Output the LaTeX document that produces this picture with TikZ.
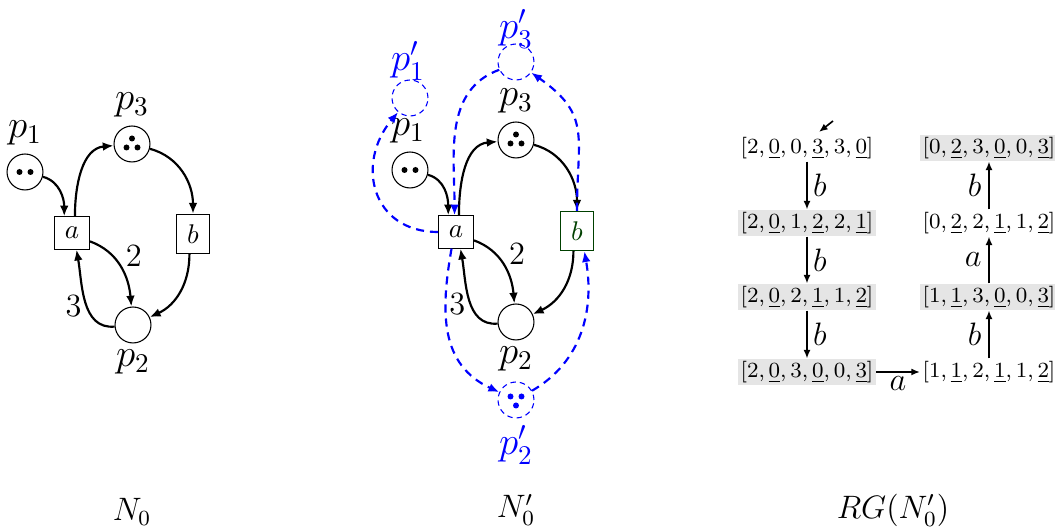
\documentclass[tikz,border=0pt]{standalone}
\usetikzlibrary{arrows.meta}
\begin{document}
\begin{tikzpicture}[x=0.37pt,y=0.37pt,
  place/.style={circle,draw,thin,minimum size=13.3pt,inner sep=0pt},
  bplace/.style={place,draw=blue,dash pattern=on 2pt off 1.5pt},
  trans/.style={rectangle,draw,thin,inner sep=3.8pt},
  gtrans/.style={trans,draw=green!25!black,text=green!25!black},
  lbl/.style={inner sep=0pt,font=\Large},
  blbl/.style={inner sep=0pt,font=\Large,text=blue},
  wlbl/.style={inner sep=0pt,font=\large},
  arc/.style={thick,-{Latex[length=4pt,width=3.2pt]}},
  barc/.style={arc,blue,dash pattern=on 3pt off 2.2pt},
  mk/.style={font=\footnotesize,inner sep=0.8pt},
  mkg/.style={mk,fill=gray!20},
  rg/.style={semithick,-{Latex[length=3.2pt,width=2.6pt]}},
  tok/.style={fill},
  rglbl/.style={font=\large},
]
\useasboundingbox (0,0) rectangle (1055,-530);

% ---------- N0 ----------
\node[place] (p1) at (25,-172) {};
\node[place] (p3) at (132,-144) {};
\node[place] (p2) at (133,-325) {};
\node[trans] (a) at (72,-233) {$a$};
\node[trans] (b) at (193,-234) {$b$};
\node[lbl] (lp1) at (25,-133) {$p_1$};
\node[lbl] (lp3) at (132,-105) {$p_3$};
\node[lbl] (lp2) at (133,-362) {$p_2$};
\fill[tok] (p1.center) ++(-5.5,0) circle[radius=3];
\fill[tok] (p1.center) ++(5.5,0) circle[radius=3];
\fill[tok] (p3.center) ++(0,5.5) circle[radius=3];
\fill[tok] (p3.center) ++(-5.5,-3.5) circle[radius=3];
\fill[tok] (p3.center) ++(5.5,-3.5) circle[radius=3];
\draw[arc] (p1) to[out=-15,in=90] (a.115);
\draw[arc] (a.80) to[out=90,in=185] (p3);
\draw[arc] (p3) to[out=-15,in=90] (b.north);
\draw[arc] (b.-100) to[out=-90,in=25] (p2);
\draw[arc] (a.-25) to[out=-20,in=95] node[wlbl,pos=0.55,above right=1pt] (w2) {$2$} (p2);
\draw[arc] (p2) to[out=185,in=-80] node[wlbl,pos=0.45,left=1.5pt] (w3) {$3$} (a.-75);
\node[rglbl] (n0) at (132,-512) {$N_0$};

% ---------- N0' ----------
\node[place] (q1) at (410,-170) {};
\node[place] (q3) at (516,-140) {};
\node[place] (q2) at (516,-322) {};
\node[trans] (qa) at (456,-232) {$a$};
\node[gtrans] (qb) at (577,-231) {$b$};
\node[bplace] (r1) at (410,-98) {};
\node[bplace] (r3) at (516,-62) {};
\node[bplace] (r2) at (516,-400) {};
\node[lbl] (lq1) at (408,-131) {$p_1$};
\node[lbl] (lq3) at (516,-101) {$p_3$};
\node[lbl] (lq2) at (516,-359) {$p_2$};
\node[blbl] (lr1) at (408,-61) {$p'_1$};
\node[blbl] (lr3) at (516,-29) {$p'_3$};
\node[blbl] (lr2) at (516,-445) {$p'_2$};
\fill[tok] (q1.center) ++(-5.5,0) circle[radius=3];
\fill[tok] (q1.center) ++(5.5,0) circle[radius=3];
\fill[tok] (q3.center) ++(0,5.5) circle[radius=3];
\fill[tok] (q3.center) ++(-5.5,-3.5) circle[radius=3];
\fill[tok] (q3.center) ++(5.5,-3.5) circle[radius=3];
\fill[tok,blue] (r2.center) ++(-5.5,3.5) circle[radius=3];
\fill[tok,blue] (r2.center) ++(5.5,3.5) circle[radius=3];
\fill[tok,blue] (r2.center) ++(0,-5.5) circle[radius=3];
\draw[arc] (q1) to[out=-15,in=90] (qa.115);
\draw[arc] (qa.80) to[out=90,in=185] (q3);
\draw[arc] (q3) to[out=-15,in=90] (qb.north);
\draw[arc] (qb.-100) to[out=-90,in=25] (q2);
\draw[arc] (qa.-25) to[out=-20,in=95] node[wlbl,pos=0.55,above right=1pt] (qw2) {$2$} (q2);
\draw[arc] (q2) to[out=185,in=-80] node[wlbl,pos=0.45,left=1.5pt] (qw3) {$3$} (qa.-75);
\draw[barc] (qa.west) to[out=180,in=-130,looseness=1.35] (r1);
\draw[barc] (r3.205) to[out=200,in=90] (qa.95);
\draw[barc] (qb.north) to[out=90,in=-35,looseness=1.3] (r3);
\draw[barc] (qa.-105) to[out=-100,in=155,looseness=1.1] (r2);
\draw[barc] (r2) to[out=30,in=-80] (qb.-70);
\node[rglbl] (n0p) at (516,-510) {$N'_0$};

% ---------- RG ----------
\node[mk]  (s0) at (807,-148) {$[2,\underline{0},0,\underline{3},3,\underline{0}]$};
\node[mkg] (s1) at (807,-223) {$[2,\underline{0},1,\underline{2},2,\underline{1}]$};
\node[mkg] (s2) at (807,-297) {$[2,\underline{0},2,\underline{1},1,\underline{2}]$};
\node[mkg] (s3) at (807,-372) {$[2,\underline{0},3,\underline{0},0,\underline{3}]$};
\node[mk]  (s4) at (989,-372) {$[1,\underline{1},2,\underline{1},1,\underline{2}]$};
\node[mkg] (s5) at (989,-297) {$[1,\underline{1},3,\underline{0},0,\underline{3}]$};
\node[mk]  (s6) at (989,-223) {$[0,\underline{2},2,\underline{1},1,\underline{2}]$};
\node[mkg] (s7) at (989,-148) {$[0,\underline{2},3,\underline{0},0,\underline{3}]$};
\coordinate (init) at (833,-121);
\coordinate (initend) at (819,-132);
\draw[rg] (init) -- (initend);
\draw[rg] (s0) -- node[rglbl,right,inner sep=2pt] (e1) {$b$} (s1);
\draw[rg] (s1) -- node[rglbl,right,inner sep=2pt] (e2) {$b$} (s2);
\draw[rg] (s2) -- node[rglbl,right,inner sep=2pt] (e3) {$b$} (s3);
\draw[rg] (s3) -- node[rglbl,below,inner sep=1.5pt] (e4) {$a$} (s4);
\draw[rg] (s4) -- node[rglbl,left,inner sep=2.5pt] (e5) {$b$} (s5);
\draw[rg] (s5) -- node[rglbl,left,inner sep=2.5pt] (e6) {$a$} (s6);
\draw[rg] (s6) -- node[rglbl,left,inner sep=2.5pt] (e7) {$b$} (s7);
\node[rglbl] (rgl) at (893,-510) {$RG(N'_0)$};
\end{tikzpicture}
\end{document}
